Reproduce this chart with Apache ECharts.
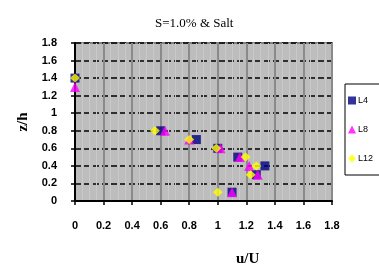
<!DOCTYPE html>
<html>
<head>
<meta charset="utf-8">
<script src="https://cdn.jsdelivr.net/npm/echarts@6/dist/echarts.min.js"></script>
<style>
  html, body { margin: 0; padding: 0; background: #fff; }
  #chart { width: 379px; height: 266px; }
</style>
</head>
<body>
<div id="chart"></div>
<script>
var seriesNames = ["L4", "L8", "L12"];
// [u/U, z/h]
var l4 = [[0, 1.4], [0.6, 0.8], [0.85, 0.7], [1.0, 0.6], [1.14, 0.5], [1.33, 0.4], [1.27, 0.3], [1.1, 0.1]];
var l8 = [[0, 1.3], [0.63, 0.8], [0.8, 0.7], [1.02, 0.6], [1.155, 0.5], [1.22, 0.4], [1.28, 0.3], [1.1, 0.1]];
var l12 = [[0, 1.4], [0.56, 0.8], [0.8, 0.7], [0.99, 0.6], [1.195, 0.5], [1.27, 0.4], [1.23, 0.3], [1.0, 0.1]];
var axisMax = 1.8;
var axisStep = 0.2;

var myChart = echarts.init(document.getElementById("chart"));

var tickFont = {
    fontFamily: "Liberation Sans, Arial, sans-serif",
    fontWeight: "bold",
    fontSize: 11,
    color: "#000"
};

option = {
    backgroundColor: "#fff",
    animation: false,
    title: [{
        text: "S=1.0% & Salt",
        left: 150,
        top: 12,
        textStyle: {
            fontFamily: "Liberation Serif, Times New Roman, serif",
            fontWeight: "normal",
            fontSize: 13,
            color: "#000"
        }
    }, {
        text: "u/U",
        left: 231,
        top: 247,
        textStyle: {
            fontFamily: "Liberation Serif, Times New Roman, serif",
            fontWeight: "bold",
            fontSize: 15,
            color: "#000"
        }
    }],
    grid: {
        left: 75,
        right: 47,
        top: 43,
        bottom: 65,
        show: true,
        backgroundColor: "#bdbdbd",
        borderColor: "#808080",
        borderWidth: 2
    },
    legend: {
        orient: "vertical",
        left: 345,
        top: 84,
        data: seriesNames,
        itemWidth: 8,
        itemHeight: 8,
        itemGap: 20,
        padding: [12, 10, 12, 3],
        borderColor: "#000",
        borderWidth: 1,
        backgroundColor: "#fff",
        borderRadius: 0,
        textStyle: {
            fontFamily: "Liberation Sans, Arial, sans-serif",
            fontSize: 9,
            color: "#000",
            padding: [0, 0, 0, -3]
        }
    },
    xAxis: {
        type: "value",
        min: 0,
        max: axisMax,
        interval: axisStep,
        axisLine: { onZero: false, lineStyle: { color: "#000", width: 2 } },
        axisTick: { show: true, length: 4, lineStyle: { color: "#000", width: 1.5 } },
        axisLabel: Object.assign({ margin: 19, formatter: function (v) { return +v.toFixed(1); } }, tickFont),
        splitLine: { show: true, lineStyle: { color: "#8a8a8a", width: 2 } },
        minorTick: { show: false, splitNumber: 4 },
        minorSplitLine: { show: true, lineStyle: { color: "#c9c9c9", width: 1 } }
    },
    yAxis: {
        type: "value",
        min: 0,
        max: axisMax,
        interval: axisStep,
        name: "z/h",
        nameLocation: "middle",
        nameGap: 44,
        nameRotate: 90,
        nameTextStyle: {
            fontFamily: "Liberation Serif, Times New Roman, serif",
            fontWeight: "bold",
            fontSize: 15,
            color: "#000"
        },
        axisLine: { onZero: false, lineStyle: { color: "#000", width: 2 } },
        axisTick: { show: true, length: 4, lineStyle: { color: "#000", width: 1.5 } },
        axisLabel: Object.assign({ margin: 18, formatter: function (v) { return +v.toFixed(1); } }, tickFont),
        splitLine: { show: true, lineStyle: { color: "#000", width: 1.5, type: [6, 3] } }
    },
    series: [{
        name: "L4",
        type: "scatter",
        data: l4,
        symbol: "rect",
        symbolSize: 9,
        itemStyle: { color: "#000080" }
    }, {
        name: "L8",
        type: "scatter",
        data: l8,
        symbol: "triangle",
        symbolSize: 10,
        itemStyle: { color: "#ff00ff" }
    }, {
        name: "L12",
        type: "scatter",
        data: l12,
        symbol: "diamond",
        symbolSize: [10, 9],
        itemStyle: { color: "#ffff00" }
    }]
};

myChart.setOption(option);
</script>
</body>
</html>
